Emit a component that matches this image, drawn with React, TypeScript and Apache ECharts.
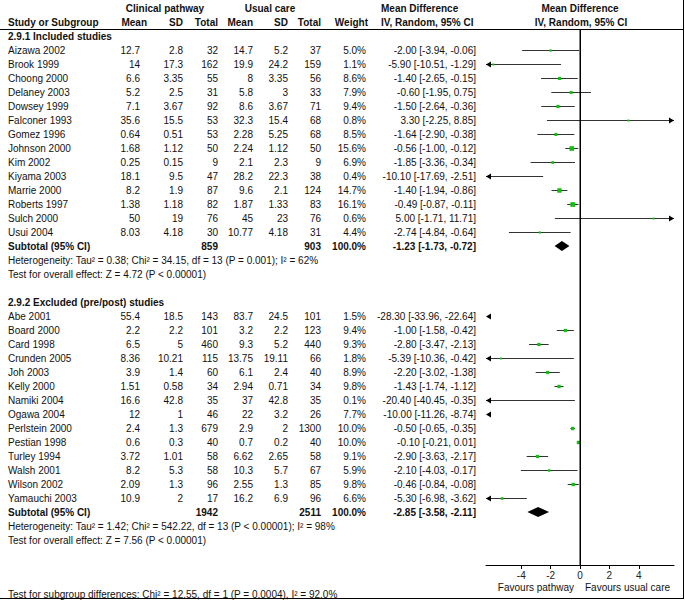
import React, { useEffect, useRef } from 'react';
import * as echarts from 'echarts';

// ---------------- DATA ----------------
const groupTitles = ['2.9.1 Included studies', '2.9.2 Excluded (pre/post) studies'];

const studies1 = ['Aizawa 2002', 'Brook 1999', 'Choong 2000', 'Delaney 2003', 'Dowsey 1999', 'Falconer 1993', 'Gomez 1996', 'Johnson 2000', 'Kim 2002', 'Kiyama 2003', 'Marrie 2000', 'Roberts 1997', 'Sulch 2000', 'Usui 2004'];
const cpMean1 = [12.7, 14, 6.6, 5.2, 7.1, 35.6, 0.64, 1.68, 0.25, 18.1, 8.2, 1.38, 50, 8.03];
const cpSD1 = [2.8, 17.3, 3.35, 2.5, 3.67, 15.5, 0.51, 1.12, 0.15, 9.5, 1.9, 1.18, 19, 4.18];
const cpN1 = [32, 162, 55, 31, 92, 53, 53, 50, 9, 47, 87, 82, 76, 30];
const ucMean1 = [14.7, 19.9, 8, 5.8, 8.6, 32.3, 2.28, 2.24, 2.1, 28.2, 9.6, 1.87, 45, 10.77];
const ucSD1 = [5.2, 24.2, 3.35, 3, 3.67, 15.4, 5.25, 1.12, 2.3, 22.3, 2.1, 1.33, 23, 4.18];
const ucN1 = [37, 159, 56, 33, 71, 68, 68, 50, 9, 38, 124, 83, 76, 31];
const weight1 = [5.0, 1.1, 8.6, 7.9, 9.4, 0.8, 8.5, 15.6, 6.9, 0.4, 14.7, 16.1, 0.6, 4.4];
const md1 = [-2.0, -5.9, -1.4, -0.6, -1.5, 3.3, -1.64, -0.56, -1.85, -10.1, -1.4, -0.49, 5.0, -2.74];
const lo1 = [-3.94, -10.51, -2.65, -1.95, -2.64, -2.25, -2.9, -1.0, -3.36, -17.69, -1.94, -0.87, -1.71, -4.84];
const hi1 = [-0.06, -1.29, -0.15, 0.75, -0.36, 8.85, -0.38, -0.12, -0.34, -2.51, -0.86, -0.11, 11.71, -0.64];

const studies2 = ['Abe 2001', 'Board 2000', 'Card 1998', 'Crunden 2005', 'Joh 2003', 'Kelly 2000', 'Namiki 2004', 'Ogawa 2004', 'Perlstein 2000', 'Pestian 1998', 'Turley 1994', 'Walsh 2001', 'Wilson 2002', 'Yamauchi 2003'];
const cpMean2 = [55.4, 2.2, 6.5, 8.36, 3.9, 1.51, 16.6, 12, 2.4, 0.6, 3.72, 8.2, 2.09, 10.9];
const cpSD2 = [18.5, 2.2, 5, 10.21, 1.4, 0.58, 42.8, 1, 1.3, 0.3, 1.01, 5.3, 1.3, 2];
const cpN2 = [143, 101, 460, 115, 60, 34, 35, 46, 679, 40, 58, 58, 96, 17];
const ucMean2 = [83.7, 3.2, 9.3, 13.75, 6.1, 2.94, 37, 22, 2.9, 0.7, 6.62, 10.3, 2.55, 16.2];
const ucSD2 = [24.5, 2.2, 5.2, 19.11, 2.4, 0.71, 42.8, 3.2, 2, 0.2, 2.65, 5.7, 1.3, 6.9];
const ucN2 = [101, 123, 440, 66, 40, 34, 35, 26, 1300, 40, 58, 67, 85, 96];
const weight2 = [1.5, 9.4, 9.3, 1.8, 8.9, 9.8, 0.1, 7.7, 10.0, 10.0, 9.1, 5.9, 9.8, 6.6];
const md2 = [-28.3, -1.0, -2.8, -5.39, -2.2, -1.43, -20.4, -10.0, -0.5, -0.1, -2.9, -2.1, -0.46, -5.3];
const lo2 = [-33.96, -1.58, -3.47, -10.36, -3.02, -1.74, -40.45, -11.26, -0.65, -0.21, -3.63, -4.03, -0.84, -6.98];
const hi2 = [-22.64, -0.42, -2.13, -0.42, -1.38, -1.12, -0.35, -8.74, -0.35, 0.01, -2.17, -0.17, -0.08, -3.62];

const subtotalCpN = [859, 1942];
const subtotalUcN = [903, 2511];
const subtotalMd = [-1.23, -2.85];
const subtotalLo = [-1.73, -3.58];
const subtotalHi = [-0.72, -2.11];
const heterogeneityTexts = [
  'Heterogeneity: Tau\u00b2 = 0.38; Chi\u00b2 = 34.15, df = 13 (P = 0.001); I\u00b2 = 62%',
  'Heterogeneity: Tau\u00b2 = 1.42; Chi\u00b2 = 542.22, df = 13 (P < 0.00001); I\u00b2 = 98%',
];
const overallTexts = ['Test for overall effect: Z = 4.72 (P < 0.00001)', 'Test for overall effect: Z = 7.56 (P < 0.00001)'];
const subgroupText = 'Test for subgroup differences: Chi\u00b2 = 12.55, df = 1 (P = 0.0004), I\u00b2 = 92.0%';
const xTicks = [-4, -2, 0, 2, 4];
const favourLabels = ['Favours pathway', 'Favours usual care'];
const noEffectValue = 0;

// ---------------- LAYOUT ----------------
const X_MIN = -6.4;
const X_MAX = 6.4;
const Y_MIN = -0.5;
const Y_MAX = 37.7857;
const GRID_TOP = 29;
const GRID_H = 536;
const FONT = '"Liberation Sans", Arial, sans-serif';
const FS = 10;
const TEXT_COLOR = '#111';

type Cell = { x: number; row: number; text: string; align: 'left' | 'right' | 'center'; bold?: boolean };
type ForestRow = { row: number; md: number; lo: number; hi: number; w: number };
type DiamondRow = { row: number; md: number; lo: number; hi: number };

const colRight = [140, 183, 218, 253, 288, 321, 366, 476];
const NAME_X = 8;

function buildAll() {
  const cells: Cell[] = [];
  const forest: ForestRow[] = [];
  const diamonds: DiamondRow[] = [];
  cells.push({ x: 165, row: -2, text: 'Clinical pathway', align: 'center', bold: true });
  cells.push({ x: 270, row: -2, text: 'Usual care', align: 'center', bold: true });
  cells.push({ x: 381, row: -2, text: 'Mean Difference', align: 'left', bold: true });
  cells.push({ x: 580, row: -2, text: 'Mean Difference', align: 'center', bold: true });
  cells.push({ x: NAME_X, row: -1, text: 'Study or Subgroup', align: 'left', bold: true });
  cells.push({ x: 147, row: -1, text: 'Mean', align: 'right', bold: true });
  cells.push({ x: 183, row: -1, text: 'SD', align: 'right', bold: true });
  cells.push({ x: 218, row: -1, text: 'Total', align: 'right', bold: true });
  cells.push({ x: 253, row: -1, text: 'Mean', align: 'right', bold: true });
  cells.push({ x: 288, row: -1, text: 'SD', align: 'right', bold: true });
  cells.push({ x: 321, row: -1, text: 'Total', align: 'right', bold: true });
  cells.push({ x: 368, row: -1, text: 'Weight', align: 'right', bold: true });
  cells.push({ x: 381, row: -1, text: 'IV, Random, 95% CI', align: 'left', bold: true });
  cells.push({ x: 581, row: -1, text: 'IV, Random, 95% CI', align: 'center', bold: true });

  const groups = [
    { names: studies1, cm: cpMean1, cs: cpSD1, cn: cpN1, um: ucMean1, us: ucSD1, un: ucN1, w: weight1, md: md1, lo: lo1, hi: hi1 },
    { names: studies2, cm: cpMean2, cs: cpSD2, cn: cpN2, um: ucMean2, us: ucSD2, un: ucN2, w: weight2, md: md2, lo: lo2, hi: hi2 },
  ];
  const ci = (m: number, l: number, h: number) => `${m.toFixed(2)} [${l.toFixed(2)}, ${h.toFixed(2)}]`;
  groups.forEach((g, gi) => {
    const start = gi === 0 ? 0 : 19;
    cells.push({ x: NAME_X, row: start, text: groupTitles[gi], align: 'left', bold: true });
    g.names.forEach((n, i) => {
      const row = start + 1 + i;
      const vals = [String(g.cm[i]), String(g.cs[i]), String(g.cn[i]), String(g.um[i]), String(g.us[i]), String(g.un[i]), g.w[i].toFixed(1) + '%', ci(g.md[i], g.lo[i], g.hi[i])];
      cells.push({ x: NAME_X, row, text: n, align: 'left' });
      vals.forEach((v, k) => cells.push({ x: colRight[k], row, text: v, align: 'right' }));
      forest.push({ row, md: g.md[i], lo: g.lo[i], hi: g.hi[i], w: g.w[i] });
    });
    const srow = start + 15;
    cells.push({ x: NAME_X, row: srow, text: 'Subtotal (95% CI)', align: 'left', bold: true });
    cells.push({ x: colRight[2], row: srow, text: String(subtotalCpN[gi]), align: 'right', bold: true });
    cells.push({ x: colRight[5], row: srow, text: String(subtotalUcN[gi]), align: 'right', bold: true });
    cells.push({ x: colRight[6], row: srow, text: '100.0%', align: 'right', bold: true });
    cells.push({ x: colRight[7], row: srow, text: ci(subtotalMd[gi], subtotalLo[gi], subtotalHi[gi]), align: 'right', bold: true });
    diamonds.push({ row: srow, md: subtotalMd[gi], lo: subtotalLo[gi], hi: subtotalHi[gi] });
    cells.push({ x: NAME_X, row: start + 16, text: heterogeneityTexts[gi], align: 'left' });
    cells.push({ x: NAME_X, row: start + 17, text: overallTexts[gi], align: 'left' });
  });
  cells.push({ x: NAME_X, row: 39.86, text: subgroupText, align: 'left' });
  cells.push({ x: 574, row: 39.36, text: favourLabels[0], align: 'right' });
  cells.push({ x: 585, row: 39.36, text: favourLabels[1], align: 'left' });
  return { cells, forest, diamonds };
}

export default function App() {
  const ref = useRef<HTMLDivElement>(null);
  useEffect(() => {
    if (!ref.current) return;
    const chart = echarts.init(ref.current, undefined, { renderer: 'svg', width: 685, height: 601 });
    const { cells, forest, diamonds } = buildAll();

    const option: any = {
      animation: false,
      backgroundColor: '#fff',
      grid: [
        { left: 0, top: GRID_TOP, width: 685, height: GRID_H },
        { left: 486, top: GRID_TOP, width: 188, height: GRID_H },
      ],
      xAxis: [
        { gridIndex: 0, type: 'value', min: 0, max: 685, show: false },
        {
          gridIndex: 1, type: 'value', min: X_MIN, max: X_MAX,
          axisLine: { show: true, onZero: false, lineStyle: { color: '#000', width: 1 } },
          axisTick: { show: true, length: 4, customValues: xTicks, lineStyle: { color: '#000' } },
          axisLabel: { show: true, customValues: xTicks, margin: 5, color: '#222', fontSize: FS, fontFamily: FONT },
          splitLine: { show: false },
        },
      ],
      yAxis: [
        { gridIndex: 0, type: 'value', min: Y_MIN, max: Y_MAX, inverse: true, show: false },
        { gridIndex: 1, type: 'value', min: Y_MIN, max: Y_MAX, inverse: true, show: false },
      ],
      graphic: [
        { type: 'line', shape: { x1: 0, y1: 29.5, x2: 684, y2: 29.5 }, style: { stroke: '#000', lineWidth: 1 } },
        { type: 'line', shape: { x1: 683.5, y1: 0, x2: 683.5, y2: 599 }, style: { stroke: '#000', lineWidth: 1 } },
        { type: 'line', shape: { x1: 0, y1: 598.5, x2: 684, y2: 598.5 }, style: { stroke: '#000', lineWidth: 1 } },
      ],
      series: [
        {
          type: 'custom', xAxisIndex: 0, yAxisIndex: 0, clip: false, silent: true,
          data: cells.map((c) => [c.x, c.row]),
          renderItem: (params: any, api: any) => {
            const c = cells[params.dataIndex];
            const p = api.coord([c.x, c.row]);
            return {
              type: 'text', x: p[0], y: p[1],
              style: {
                text: c.text, fill: TEXT_COLOR, fontSize: FS, fontFamily: FONT,
                fontWeight: c.bold ? 'bold' : 'normal', align: c.align, verticalAlign: 'middle',
              },
            };
          },
        },
        {
          // line of no effect as a plain line series through the axes
          type: 'line', xAxisIndex: 1, yAxisIndex: 1, z: 5, silent: true, clip: false,
          symbol: 'none', showSymbol: false,
          lineStyle: { color: '#000', width: 1, type: 'solid' },
          data: [[noEffectValue, Y_MIN], [noEffectValue, Y_MAX]],
        },
        {
          type: 'custom', xAxisIndex: 1, yAxisIndex: 1, clip: false, silent: true,
          data: forest.map((f) => [f.md, f.row]),
          markLine: {
            silent: true, symbol: 'none', animation: false,
            label: { show: false },
            lineStyle: { color: '#000', width: 1, type: 'solid' },
            emphasis: { disabled: true },
            data: [{ xAxis: noEffectValue }],
          },
          renderItem: (params: any, api: any) => {
            const r = forest[params.dataIndex];
            const px = (v: number) => api.coord([v, r.row])[0];
            const yc = Math.round(api.coord([0, r.row])[1]) + 0.5;
            const xL = px(X_MIN);
            const xR = px(X_MAX);
            const arrowL = (x: number) => ({ type: 'polygon', shape: { points: [[x, yc], [x + 5, yc - 3], [x + 5, yc + 3]] }, style: { fill: '#000' } });
            const arrowR = (x: number) => ({ type: 'polygon', shape: { points: [[x, yc], [x - 5, yc - 3], [x - 5, yc + 3]] }, style: { fill: '#000' } });
            const children: any[] = [];
            if (r.hi < X_MIN) children.push(arrowL(xL));
            else if (r.lo > X_MAX) children.push(arrowR(xR));
            else {
              const a = Math.max(r.lo, X_MIN);
              const b = Math.min(r.hi, X_MAX);
              children.push({ type: 'line', shape: { x1: px(a), y1: yc, x2: px(b), y2: yc }, style: { stroke: '#333', lineWidth: 1 } });
              if (r.lo < X_MIN) children.push(arrowL(xL));
              if (r.hi > X_MAX) children.push(arrowR(xR));
              if (r.md >= X_MIN && r.md <= X_MAX) {
                const s = Math.max(2, 1.2 + r.w * 0.22);
                children.push({ type: 'rect', shape: { x: px(r.md) - s / 2, y: yc - s / 2, width: s, height: s }, style: { fill: '#10c010' } });
              }
            }
            return { type: 'group', children };
          },
        },
        {
          type: 'custom', xAxisIndex: 1, yAxisIndex: 1, clip: false, silent: true,
          data: diamonds.map((d) => [d.md, d.row]),
          renderItem: (params: any, api: any) => {
            const d = diamonds[params.dataIndex];
            const px = (v: number) => api.coord([v, d.row])[0];
            const yc = api.coord([0, d.row])[1];
            return {
              type: 'polygon',
              shape: { points: [[px(d.lo), yc], [px(d.md), yc - 5], [px(d.hi), yc], [px(d.md), yc + 5]] },
              style: { fill: '#000' },
            };
          },
        },
      ],
    };
    chart.setOption(option);
    return () => chart.dispose();
  }, []);
  return <div ref={ref} style={{ position: 'fixed', left: 0, top: 0, width: 685, height: 601, background: '#fff' }} />;
}
